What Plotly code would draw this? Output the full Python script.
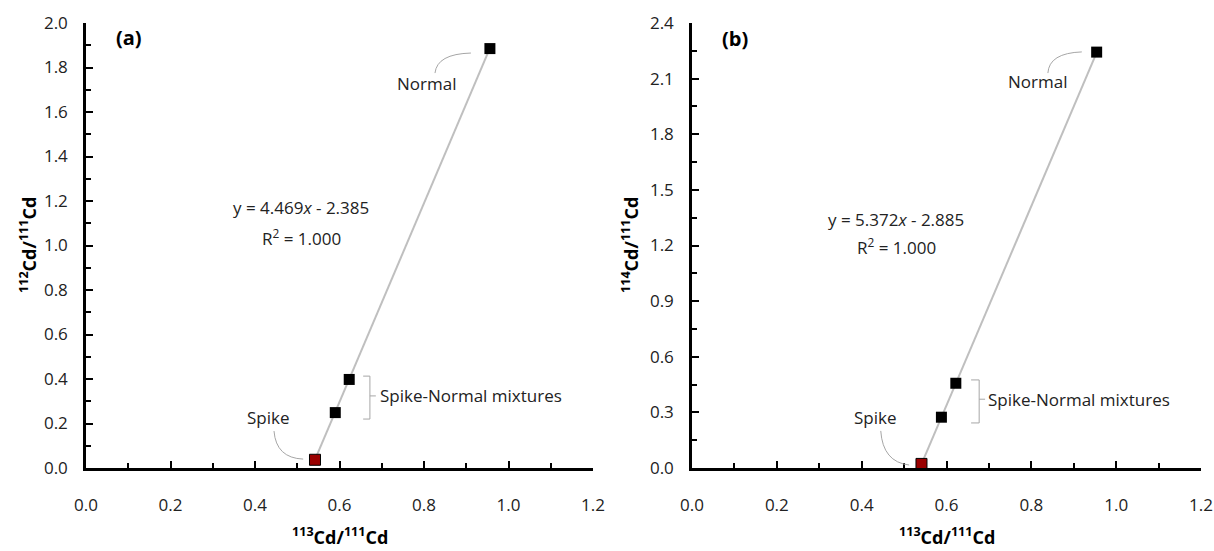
import plotly.graph_objects as go

# ---- data ----
x_a = [0.542, 0.590, 0.623, 0.956]
y_a = [0.037, 0.249, 0.398, 1.885]
x_b = [0.541, 0.588, 0.622, 0.954]
y_b = [0.022, 0.274, 0.457, 2.243]
fit_a = (4.469, -2.385)
fit_b = (5.372, -2.885)
labels = ["Spike", "Mixture", "Mixture", "Normal"]

FONT = "Open Sans"
GRAY = "#BFBFBF"
SPIKE_COLOR = "#9A0000"

fig = go.Figure()

def add_panel(xs, ys, fit, xa, ya):
    xr = [min(xs), max(xs)]
    yr = [fit[0] * v + fit[1] for v in xr]
    fig.add_trace(go.Scatter(x=xr, y=yr, mode="lines", line=dict(color=GRAY, width=2),
                             xaxis=xa, yaxis=ya, showlegend=False, hoverinfo="skip"))
    fig.add_trace(go.Scatter(x=xs[1:], y=ys[1:], mode="markers",
                             marker=dict(symbol="square", size=11, color="black"),
                             xaxis=xa, yaxis=ya, showlegend=False, cliponaxis=False))
    fig.add_trace(go.Scatter(x=xs[:1], y=ys[:1], mode="markers",
                             marker=dict(symbol="square", size=11, color=SPIKE_COLOR,
                                         line=dict(color="black", width=1)),
                             xaxis=xa, yaxis=ya, showlegend=False, cliponaxis=False))

add_panel(x_a, y_a, fit_a, "x", "y")
add_panel(x_b, y_b, fit_b, "x2", "y2")

ydom = [83 / 551, 1 - 23 / 551]
axis_common = dict(showline=True, linecolor="black", linewidth=2.5, ticks="inside",
                   tickcolor="black", tickwidth=2, ticklen=7, showgrid=False, zeroline=False,
                   automargin=False,
                   tickfont=dict(family=FONT, size=17, color="#222"))
minor = dict(ticks="inside", ticklen=5, tickwidth=2, tickcolor="black")

fig.update_layout(
    width=1214, height=551, margin=dict(l=0, r=0, t=0, b=0, autoexpand=False),
    paper_bgcolor="white", plot_bgcolor="white",
    xaxis=dict(domain=[86 / 1214, 593 / 1214], range=[0, 1.2], dtick=0.2, tickformat=".1f",
               anchor="y", ticklabelstandoff=20, minor=dict(dtick=0.1, **minor), **axis_common),
    yaxis=dict(domain=ydom, range=[0, 2.0], dtick=0.2, tickformat=".1f", anchor="x",
               ticklabelstandoff=12, minor=dict(dtick=0.1, **minor), **axis_common),
    xaxis2=dict(domain=[692 / 1214, 1201 / 1214], range=[0, 1.2], dtick=0.2, tickformat=".1f",
                anchor="y2", ticklabelstandoff=20, minor=dict(dtick=0.1, **minor), **axis_common),
    yaxis2=dict(domain=ydom, range=[0, 2.4], dtick=0.3, tickformat=".1f", anchor="x2",
                ticklabelstandoff=12, minor=dict(dtick=0.15, **minor), **axis_common),
)

txt = dict(family=FONT, size=17, color="#222")
ann = []

def A(text, x, y, xref, yref, xanchor="center", font=txt, textangle=0):
    ann.append(dict(text=text, x=x, y=y, xref=xref, yref=yref, xanchor=xanchor,
                    yanchor="middle", showarrow=False, font=font, textangle=textangle))

bold = dict(family=FONT, size=20, color="black")
title_font = dict(family=FONT, size=18, color="black")

# panel a
A("<b>(a)</b>", 0.102, 1.933, "x", "y", font=bold)
A("Normal", 0.807, 1.730, "x", "y")
A("Spike", 0.433, 0.225, "x", "y")
A("Spike-Normal mixtures", 0.691, 0.324, "x", "y", xanchor="left")
A("y = 4.469<i>x</i> - 2.385", 0.509, 1.173, "x", "y")
A("R<sup>2</sup> = 1.000", 0.509, 1.038, "x", "y")
# panel b
A("<b>(b)</b>", 0.101, 2.319, "x2", "y2", font=bold)
A("Normal", 0.815, 2.082, "x2", "y2")
A("Spike", 0.433, 0.270, "x2", "y2")
A("Spike-Normal mixtures", 0.693, 0.371, "x2", "y2", xanchor="left")
A("y = 5.372<i>x</i> - 2.885", 0.482, 1.338, "x2", "y2")
A("R<sup>2</sup> = 1.000", 0.482, 1.192, "x2", "y2")

# axis titles
A("<b><sup>113</sup>Cd/<sup>111</sup>Cd</b>", 339.5 / 1214, 15 / 551, "paper", "paper", font=title_font)
A("<b><sup>113</sup>Cd/<sup>111</sup>Cd</b>", 946.5 / 1214, 15 / 551, "paper", "paper", font=title_font)
A("<b><sup>112</sup>Cd/<sup>111</sup>Cd</b>", 28 / 1214, 306 / 551, "paper", "paper", font=title_font, textangle=-90)
A("<b><sup>114</sup>Cd/<sup>111</sup>Cd</b>", 630 / 1214, 306 / 551, "paper", "paper", font=title_font, textangle=-90)

fig.update_layout(annotations=ann)

line_style = dict(color="#A6A6A6", width=1)
shapes = [
    # panel a connectors
    dict(type="path", path="M 0.826,1.775 Q 0.831,1.861 0.911,1.865", xref="x", yref="y", line=line_style),
    dict(type="path", path="M 0.445,0.166 Q 0.450,0.045 0.514,0.040", xref="x", yref="y", line=line_style),
    dict(type="path", path="M 0.656,0.413 L 0.672,0.413 L 0.672,0.220 L 0.656,0.220 M 0.672,0.324 L 0.686,0.324",
         xref="x", yref="y", line=line_style),
    # panel b connectors
    dict(type="path", path="M 0.839,2.130 Q 0.842,2.238 0.919,2.244", xref="x2", yref="y2", line=line_style),
    dict(type="path", path="M 0.445,0.200 Q 0.450,0.032 0.512,0.016", xref="x2", yref="y2", line=line_style),
    dict(type="path", path="M 0.658,0.475 L 0.677,0.475 L 0.677,0.243 L 0.658,0.243 M 0.677,0.371 L 0.691,0.371",
         xref="x2", yref="y2", line=line_style),
]
fig.update_layout(shapes=shapes)

fig.write_html("out.html")
